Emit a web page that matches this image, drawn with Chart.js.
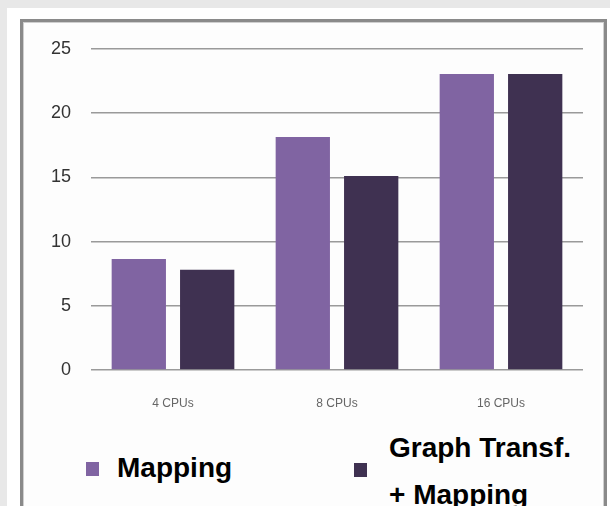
<!DOCTYPE html>
<html>
<head>
<meta charset="utf-8">
<script src="https://cdn.jsdelivr.net/npm/chart.js@4"></script>
<style>
  html, body { margin:0; padding:0; }
  body { width:610px; height:506px; background:#e8e8e8; position:relative; overflow:hidden; font-family:"Liberation Sans", Arial, sans-serif; }
  #page { position:absolute; left:7px; top:8px; width:603px; height:498px; background:#ffffff; }
  #frame { position:absolute; left:20px; top:19px; width:581px; height:500px; border:3px solid #8a8a8a; box-shadow: inset 0 0 0 1px #cfcfcf; background:#fdfdfd; }
  #c { position:absolute; left:0; top:0; }
  .sw { position:absolute; width:13px; height:14px; }
  .lab { position:absolute; font-weight:bold; font-size:28px; color:#000; white-space:normal; }
</style>
</head>
<body>
<div id="page"></div>
<div id="frame"></div>
<canvas id="c" width="610" height="420"></canvas>
<div id="legend"></div>
<script>
const categories = ['4 CPUs', '8 CPUs', '16 CPUs'];
const seriesNames = ['Mapping', 'Graph Transf. + Mapping'];
const mappingValues = [8.65, 18.15, 23.05];
const graphTransfValues = [7.8, 15.1, 23.05];
const yTicks = [0, 5, 10, 15, 20, 25];
const seriesColors = ['#8064a2', '#3f3151'];

new Chart(document.getElementById('c'), {
  type: 'bar',
  data: {
    labels: categories,
    datasets: [
      { label: seriesNames[0], data: mappingValues, backgroundColor: seriesColors[0], borderWidth: 0 },
      { label: seriesNames[1], data: graphTransfValues, backgroundColor: seriesColors[1], borderWidth: 0 }
    ]
  },
  options: {
    responsive: false,
    animation: false,
    devicePixelRatio: 1,
    layout: { padding: { top: 49, right: 27, bottom: 0, left: 0 } },
    datasets: { bar: { categoryPercentage: 0.834, barPercentage: 0.794 } },
    plugins: { legend: { display: false }, tooltip: { enabled: false } },
    scales: {
      x: {
        grid: { display: false, drawTicks: false },
        border: { display: false },
        ticks: { color: '#666', font: { family: 'Liberation Sans', size: 12 }, padding: 26 },
        afterFit: s => { s.height = 50; }
      },
      y: {
        min: 0, max: 25,
        afterBuildTicks: s => { s.ticks = yTicks.map(v => ({ value: v })); },
        grid: { color: '#9a9a9a', lineWidth: 1.5, drawTicks: false },
        border: { display: false },
        ticks: { color: '#333', font: { family: 'Liberation Sans', size: 18 }, padding: 20 },
        afterFit: s => { s.width = 91; }
      }
    }
  }
});

// HTML legend built from the series names and colours
const legend = document.getElementById('legend');
const legendPos = [
  { sx: 86, sy: 462, tx: 117, ty: 444, w: 160 },
  { sx: 354, sy: 463, tx: 389, ty: 424, w: 196 }
];
seriesNames.forEach((name, i) => {
  const p = legendPos[i];
  const sw = document.createElement('div');
  sw.className = 'sw';
  sw.style.left = p.sx + 'px'; sw.style.top = p.sy + 'px';
  sw.style.background = seriesColors[i];
  legend.appendChild(sw);
  const t = document.createElement('div');
  t.className = 'lab';
  t.style.left = p.tx + 'px'; t.style.top = p.ty + 'px';
  t.style.width = p.w + 'px';
  t.style.lineHeight = '47px';
  t.textContent = name;
  legend.appendChild(t);
});
</script>
</body>
</html>
